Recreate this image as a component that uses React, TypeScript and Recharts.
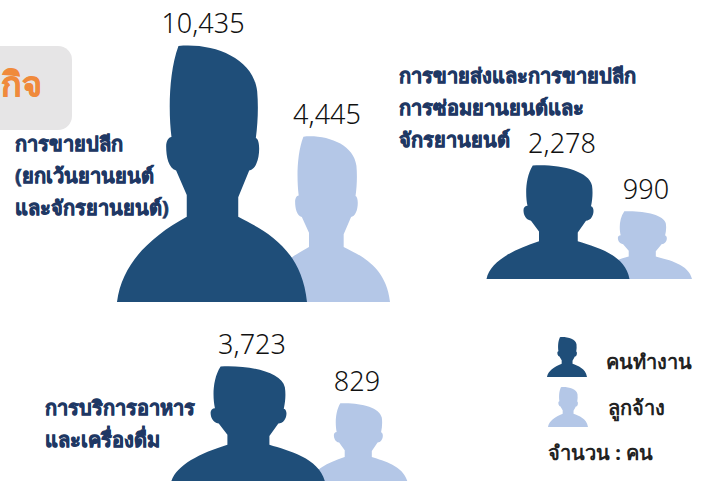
import { Bar, BarChart, LabelList, XAxis, YAxis } from 'recharts'

const PEOPLE = ['ลูกจ้าง', 'คนทำงาน']
const RETAIL = [4445, 10435]
const WHOLESALE = [990, 2278]
const FOOD = [829, 3723]

const DARK = '#1f4e79'
const LIGHT = '#b4c7e7'
const TITLE = '#1f3864'
const FONT = '"Noto Sans", "DejaVu Sans", sans-serif'

// silhouette, in its own 572 x 768 box
const OUTLINE =
  'M185 3 C290 -7 410 38 422 138 C426 183 424 233 418 278 C432 283 430 333 420 353 ' +
  'C415 368 405 373 398 375 L365 455 L365 513 C440 553 555 603 572 768 L0 768 ' +
  'C15 653 100 573 210 513 L210 448 L178 375 C155 368 148 333 148 303 ' +
  'C148 288 155 275 164 275 C155 203 155 83 185 3 Z'

function Silhouette({ cx, top, width, height, fill }: { cx: number; top: number; width: number; height: number; fill: string }) {
  return (
    <path
      d={OUTLINE}
      fill={fill}
      transform={`translate(${cx - width / 2} ${top}) scale(${width / 572} ${height / 768})`}
    />
  )
}

interface GroupProps {
  values: number[]
  left: number
  top: number
  width: number
  height: number
  domainMin: number
  widths: number[]
  shifts: number[]
}

const LABEL_SPACE = 40
const SIDE_SPACE = 60

function PeopleGroup({ values, left, top, width, height, domainMin, widths, shifts }: GroupProps) {
  const data = PEOPLE.map((name, i) => ({ name, value: values[i] }))

  const person = (props: any) => {
    const { x, y, width: w, index } = props
    return (
      <Silhouette
        cx={x + w / 2}
        top={y}
        width={widths[index]}
        height={height - y}
        fill={index === 0 ? LIGHT : DARK}
      />
    )
  }

  const valueLabel = (props: any) => {
    const { x, y, width: w, value, index } = props
    return (
      <text
        x={x + w / 2 + shifts[index]}
        y={y - 12}
        textAnchor="middle"
        fontFamily={FONT}
        fontWeight={300}
        fontSize={27}
        fill="#111"
      >
        {value.toLocaleString('en-US')}
      </text>
    )
  }

  return (
    <div style={{ position: 'absolute', left: left - SIDE_SPACE, top }}>
      <BarChart
        width={width + SIDE_SPACE * 2}
        height={height}
        data={data}
        margin={{ top: LABEL_SPACE, right: SIDE_SPACE, bottom: 0, left: SIDE_SPACE }}
        barCategoryGap={0}
      >
        <XAxis dataKey="name" reversed hide />
        <YAxis hide domain={[domainMin, Math.max(...values)]} />
        <Bar dataKey="value" shape={person} isAnimationActive={false}>
          <LabelList dataKey="value" content={valueLabel} />
        </Bar>
      </BarChart>
    </div>
  )
}

function Title({ lines, left, top }: { lines: string[]; left: number; top: number }) {
  return (
    <div
      style={{
        position: 'absolute',
        left,
        top,
        fontFamily: FONT,
        fontWeight: 700,
        fontSize: 20,
        lineHeight: '32px',
        color: TITLE,
        WebkitTextStroke: '0.7px ' + TITLE,
        whiteSpace: 'nowrap',
      }}
    >
      {lines.map((line) => (
        <div key={line}>{line}</div>
      ))}
    </div>
  )
}

function LegendIcon({ fill, left, top }: { fill: string; left: number; top: number }) {
  return (
    <svg width={42} height={42} style={{ position: 'absolute', left, top }}>
      <Silhouette cx={21} top={1} width={40} height={40} fill={fill} />
    </svg>
  )
}

const legendText = {
  position: 'absolute' as const,
  fontFamily: FONT,
  fontWeight: 700,
  fontSize: 20,
  lineHeight: '28px',
  color: '#222',
  whiteSpace: 'nowrap' as const,
}

export default function App() {
  return (
    <div
      style={{
        position: 'absolute',
        left: 0,
        top: 0,
        width: 705,
        height: 481,
        overflow: 'hidden',
        background: '#fff',
      }}
    >
      <div
        style={{
          position: 'absolute',
          left: -20,
          top: 46,
          width: 92,
          height: 84,
          background: '#e6e5e6',
          borderRadius: 14,
        }}
      />
      <div
        style={{
          position: 'absolute',
          right: 663,
          top: 60,
          fontFamily: FONT,
          fontWeight: 700,
          fontSize: 34,
          lineHeight: '46px',
          color: '#f08a3c',
          WebkitTextStroke: '0.7px #f08a3c',
          whiteSpace: 'nowrap',
        }}
      >
        กิจ
      </div>

      <PeopleGroup values={RETAIL} left={155} top={5} width={228} height={297} domainMin={-6485} widths={[128, 190]} shifts={[1, -9]} />
      <PeopleGroup values={WHOLESALE} left={516} top={125} width={168} height={154} domainMin={-915} widths={[100, 143]} shifts={[4, 4]} />
      <PeopleGroup values={FOOD} left={193} top={326} width={220} height={158} domainMin={-5503} widths={[100, 155]} shifts={[-1, 4]} />

      <Title lines={['การขายปลีก', '(ยกเว้นยานยนต์', 'และจักรยานยนต์)']} left={15} top={128} />
      <Title lines={['การขายส่งและการขายปลีก', 'การซ่อมยานยนต์และ', 'จักรยานยนต์']} left={399} top={60} />
      <Title lines={['การบริการอาหาร', 'และเครื่องดื่ม']} left={45} top={392} />

      <LegendIcon fill={DARK} left={546} top={336} />
      <LegendIcon fill={LIGHT} left={547} top={386} />
      <div style={{ ...legendText, left: 606, top: 348 }}>คนทำงาน</div>
      <div style={{ ...legendText, left: 608, top: 394 }}>ลูกจ้าง</div>
      <div style={{ ...legendText, left: 548, top: 439 }}>จำนวน : คน</div>
    </div>
  )
}
